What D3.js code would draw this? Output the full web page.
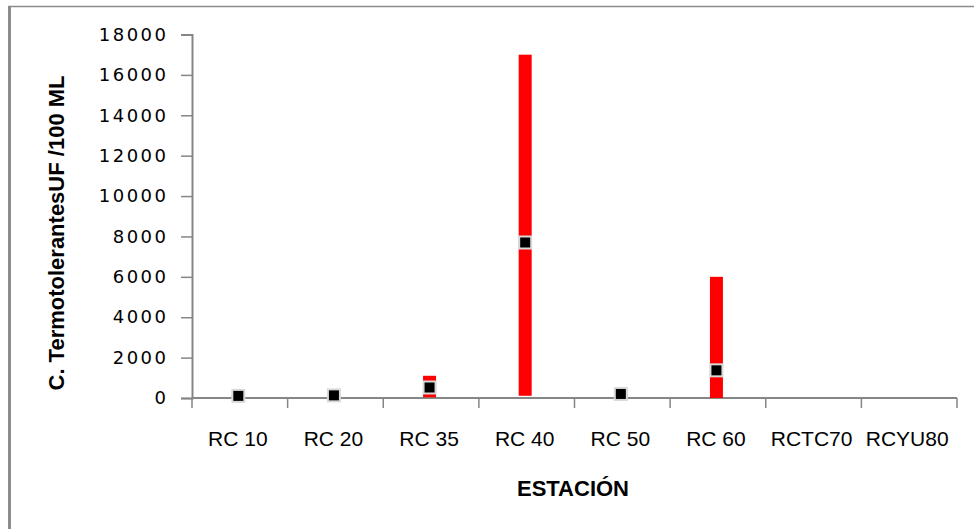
<!DOCTYPE html>
<html>
<head>
<meta charset="utf-8">
<script src="https://cdn.jsdelivr.net/npm/d3@7"></script>
<style>
  html, body { margin: 0; padding: 0; background: #fff; }
  svg { display: block; }
</style>
</head>
<body>
<svg id="chart" width="974" height="529"></svg>
<script>
const categories = ["RC 10", "RC 20", "RC 35", "RC 40", "RC 50", "RC 60", "RCTC70", "RCYU80"];
const maxValues  = [180, 200, 1100, 17000, 400, 6000, null, null];
const minValues  = [30, 40, 35, 110, 40, 0, null, null];
const meanValues = [105, 130, 520, 7700, 200, 1370, null, null];
const yTicks = [0, 2000, 4000, 6000, 8000, 10000, 12000, 14000, 16000, 18000];

const svg = d3.select("#chart");
const plotLeft = 192, plotRight = 957, plotTop = 34.5, plotBottom = 398;

// outer frame
svg.append("line").attr("x1", 8).attr("x2", 974).attr("y1", 6.5).attr("y2", 6.5)
  .attr("stroke", "#8c8c8c").attr("stroke-width", 1.5);
svg.append("line").attr("x1", 9.5).attr("x2", 9.5).attr("y1", 6).attr("y2", 529)
  .attr("stroke", "#8c8c8c").attr("stroke-width", 3);

const x = d3.scaleBand().domain(categories).range([plotLeft, plotRight]).padding(0);
const y = d3.scaleLinear().domain([0, 18000]).range([plotBottom, plotTop]);

// y axis
const yAxis = svg.append("g").attr("transform", `translate(${plotLeft},0)`)
  .call(d3.axisLeft(y).tickValues(yTicks).tickSize(11).tickPadding(15).tickFormat(d3.format("d")));
yAxis.select(".domain").attr("stroke", "#868686").attr("stroke-width", 2);
yAxis.selectAll(".tick line").attr("stroke", "#868686").attr("stroke-width", 1.5);
yAxis.selectAll(".tick text").attr("fill", "#000").attr("font-family", "DejaVu Sans")
  .attr("font-size", 18).attr("letter-spacing", 2.5).attr("dx", 2.5);

// x axis
const xAxis = svg.append("g").attr("transform", `translate(0,${plotBottom})`);
xAxis.append("line").attr("x1", plotLeft).attr("x2", plotRight).attr("y1", 0).attr("y2", 0)
  .attr("stroke", "#868686").attr("stroke-width", 2);
const boundaries = categories.map(c => x(c)).concat([plotRight]);
xAxis.selectAll("line.tk").data(boundaries).enter().append("line").attr("class", "tk")
  .attr("x1", d => d).attr("x2", d => d).attr("y1", 0).attr("y2", 10)
  .attr("stroke", "#868686").attr("stroke-width", 1.5);
xAxis.selectAll("text").data(categories).enter().append("text")
  .attr("x", d => x(d) + x.bandwidth() / 2 - 2)
  .attr("y", 48)
  .attr("text-anchor", "middle")
  .attr("font-family", "Liberation Sans, sans-serif")
  .attr("font-size", 21)
  .attr("fill", "#000")
  .text(d => d);

// range bars
const bw = 13;
const idx = d3.range(categories.length).filter(i => maxValues[i] != null);
svg.selectAll("rect.range").data(idx).enter().append("rect").attr("class", "range")
  .attr("x", i => x(categories[i]) + x.bandwidth() / 2 - bw / 2 - 1.5)
  .attr("width", bw)
  .attr("y", i => y(maxValues[i]))
  .attr("height", i => y(minValues[i]) - y(maxValues[i]))
  .attr("fill", "#ff0000");

// mean markers
const ms = 12;
svg.selectAll("rect.mean").data(idx).enter().append("rect").attr("class", "mean")
  .attr("x", i => x(categories[i]) + x.bandwidth() / 2 - ms / 2 - 1.5)
  .attr("y", i => y(meanValues[i]) - ms / 2)
  .attr("width", ms).attr("height", ms)
  .attr("fill", "#000").attr("stroke", "#d9d9d9").attr("stroke-width", 2);

// axis titles
svg.append("text")
  .attr("transform", `translate(64,233) rotate(-90)`)
  .attr("text-anchor", "middle")
  .attr("font-family", "Liberation Sans, sans-serif")
  .attr("font-weight", "bold").attr("font-size", 22).attr("fill", "#000")
  .text("C. TermotolerantesUF /100 ML");
svg.append("text")
  .attr("x", 573).attr("y", 496)
  .attr("text-anchor", "middle")
  .attr("font-family", "Liberation Sans, sans-serif")
  .attr("font-weight", "bold").attr("font-size", 22).attr("fill", "#000")
  .text("ESTACIÓN");
</script>
</body>
</html>
